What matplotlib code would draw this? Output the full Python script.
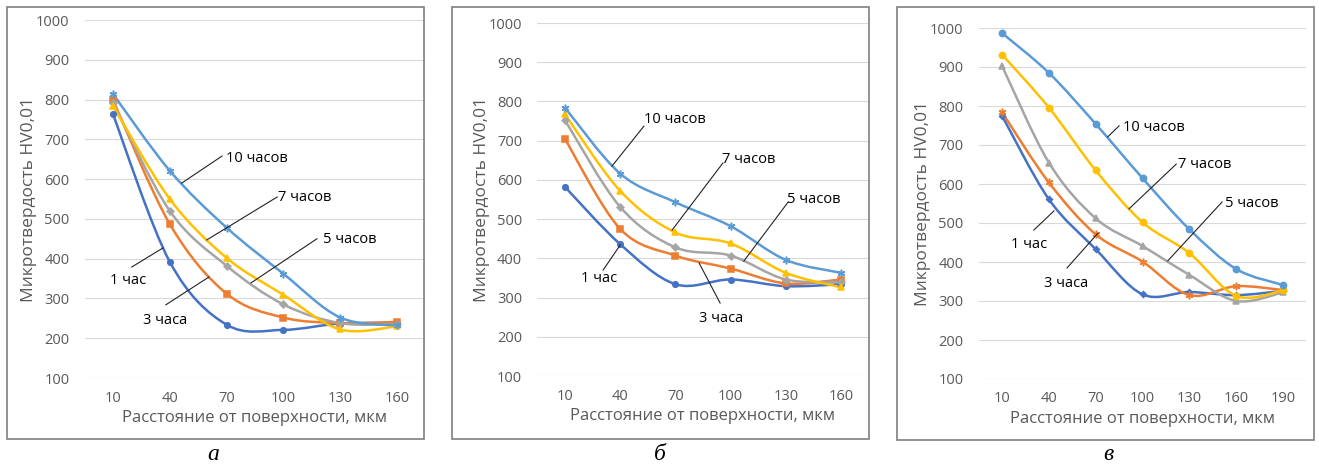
import matplotlib
matplotlib.use("Agg")
import matplotlib.pyplot as plt
from matplotlib.path import Path
from matplotlib.patches import PathPatch, Rectangle
import numpy as np

plt.rcParams['font.family'] = ['Open Sans', 'DejaVu Sans']

# distance from surface, um
x_ab = [10, 40, 70, 100, 130, 160]
x_c = [10, 40, 70, 100, 130, 160, 190]

series_names = ["1 час", "3 часа", "5 часов", "7 часов", "10 часов"]

# panel a
a_1h = [763, 392, 234, 221, 237, 238]
a_3h = [799, 487, 312, 252, 238, 241]
a_5h = [792, 520, 382, 285, 238, 236]
a_7h = [784, 550, 402, 309, 222, 230]
a_10h = [814, 621, 478, 362, 252, 232]

# panel b
b_1h = [582, 436, 334, 346, 329, 334]
b_3h = [704, 475, 407, 374, 336, 346]
b_5h = [752, 531, 428, 407, 346, 340]
b_7h = [767, 572, 466, 438, 363, 326]
b_10h = [784, 616, 543, 482, 396, 363]

# panel c
c_1h = [775, 561, 433, 317, 323, 315, 326]
c_3h = [784, 604, 471, 401, 315, 338, 328]
c_5h = [903, 655, 512, 441, 367, 300, 322]
c_7h = [932, 796, 635, 502, 423, 313, 327]
c_10h = [987, 885, 754, 615, 484, 382, 341]

colors = ["#4472C4", "#ED7D31", "#A5A5A5", "#FFC000", "#5B9BD5"]
markers_ab = ["o", "s", "D", "^", (6, 2, 0)]
msizes_ab = [4, 4, 3.5, 4.5, 5.5]
markers_c = ["D", (6, 2, 0), "^", "o", "o"]
msizes_c = [3, 5.5, 4.5, 4.5, 4.5]

# label placement: (text x, text y, line start x, y, line end x, y) in category index / value
labels_a = [(0.26, 344, 0.33, 379, 0.88, 427),
            (0.92, 244, 0.93, 284, 1.69, 354),
            (4.17, 447, 3.59, 450, 2.43, 339),
            (3.38, 553, 2.89, 555, 1.65, 447),
            (2.54, 653, 1.92, 658, 1.21, 590)]
labels_b = [(0.62, 349, 0.69, 370, 1.00, 434),
            (2.83, 247, 2.81, 286, 2.43, 388),
            (4.51, 551, 4.04, 543, 3.24, 393),
            (3.32, 651, 2.86, 643, 1.94, 472),
            (1.99, 755, 1.43, 737, 0.85, 635)]
labels_c = [(0.58, 446, 0.68, 482, 1.11, 531),
            (1.37, 346, 1.39, 385, 2.05, 474),
            (5.34, 551, 4.70, 554, 3.54, 403),
            (4.33, 651, 3.72, 651, 2.71, 536),
            (3.25, 746, 2.50, 749, 2.26, 721)]


def smooth_path(xs, ys):
    # catmull-rom style bezier like Excel's smoothed lines
    p = np.column_stack([xs, ys]).astype(float)
    pts = [p[0]]
    codes = [Path.MOVETO]
    n = len(p)
    for i in range(n - 1):
        p0 = p[i - 1] if i > 0 else p[i]
        p3 = p[i + 2] if i + 2 < n else p[i + 1]
        c1 = p[i] + (p[i + 1] - p0) / 6
        c2 = p[i + 1] - (p3 - p[i]) / 6
        pts += [c1, c2, p[i + 1]]
        codes += [Path.CURVE4] * 3
    return Path(pts, codes)


def draw_panel(rect, cats, data, markers, msizes, labels):
    ax = fig.add_axes(rect)
    idx = np.arange(len(cats))
    for ys, c, m, ms in zip(data, colors, markers, msizes):
        ax.add_patch(PathPatch(smooth_path(idx, ys), fill=False, ec=c, lw=1.8, zorder=3))
        ax.plot(idx, ys, ls="none", marker=m, ms=ms, color=c, mec=c, mew=1.1, zorder=4)
    for name, (tx, ty, sx, sy, ex, ey) in zip(series_names, labels):
        ax.plot([sx, ex], [sy, ey], color="#222222", lw=0.8, zorder=5)
        ax.text(tx, ty, name, ha="center", va="center", fontsize=10.5, color="black", zorder=6)
    ax.set_xlim(-0.5, len(cats) - 0.5)
    ax.set_ylim(100, 1000)
    ax.set_yticks(np.arange(100, 1001, 100))
    ax.set_xticks(idx)
    ax.set_xticklabels([str(v) for v in cats])
    ax.grid(axis="y", color="#D9D9D9", lw=0.8)
    ax.set_axisbelow(True)
    for s in ax.spines.values():
        s.set_visible(False)
    ax.tick_params(length=0, colors="#595959", labelsize=10.5)
    ax.tick_params(axis="y", pad=11)
    ax.tick_params(axis="x", pad=9)
    ax.set_xlabel("Расстояние от поверхности, мкм", fontsize=12, color="#595959", labelpad=3)
    ax.set_ylabel("Микротвердость HV0,01", fontsize=12.5, color="#595959", labelpad=-1)
    return ax


W, H = 1319, 466
fig = plt.figure(figsize=(W / 100, H / 100), dpi=100)


def frac(left, right, top, bottom):
    return [left / W, 1 - bottom / H, (right - left) / W, (bottom - top) / H]


draw_panel(frac(84.6, 425.4, 20, 378), x_ab, [a_1h, a_3h, a_5h, a_7h, a_10h],
           markers_ab, msizes_ab, labels_a)
draw_panel(frac(537.4, 868.6, 23, 376), x_ab, [b_1h, b_3h, b_5h, b_7h, b_10h],
           markers_ab, msizes_ab, labels_b)
draw_panel(frac(978.6, 1306.4, 28, 379), x_c, [c_1h, c_3h, c_5h, c_7h, c_10h],
           markers_c, msizes_c, labels_c)

for (l, r, t, b) in [(7, 424, 7, 439), (452, 869, 7, 439), (897, 1314, 7, 440)]:
    fig.patches.append(Rectangle((l / W, 1 - b / H), (r - l) / W, (b - t) / H,
                                 transform=fig.transFigure, fill=False,
                                 ec="#7F7F7F", lw=1.2))

for letter, cx in [("а", 213), ("б", 660), ("в", 1108)]:
    fig.text(cx / W, 1 - 454 / H, letter, ha="center", va="center", fontsize=17,
             style="italic", family="Liberation Serif")

fig.savefig("out.png", dpi=100)
